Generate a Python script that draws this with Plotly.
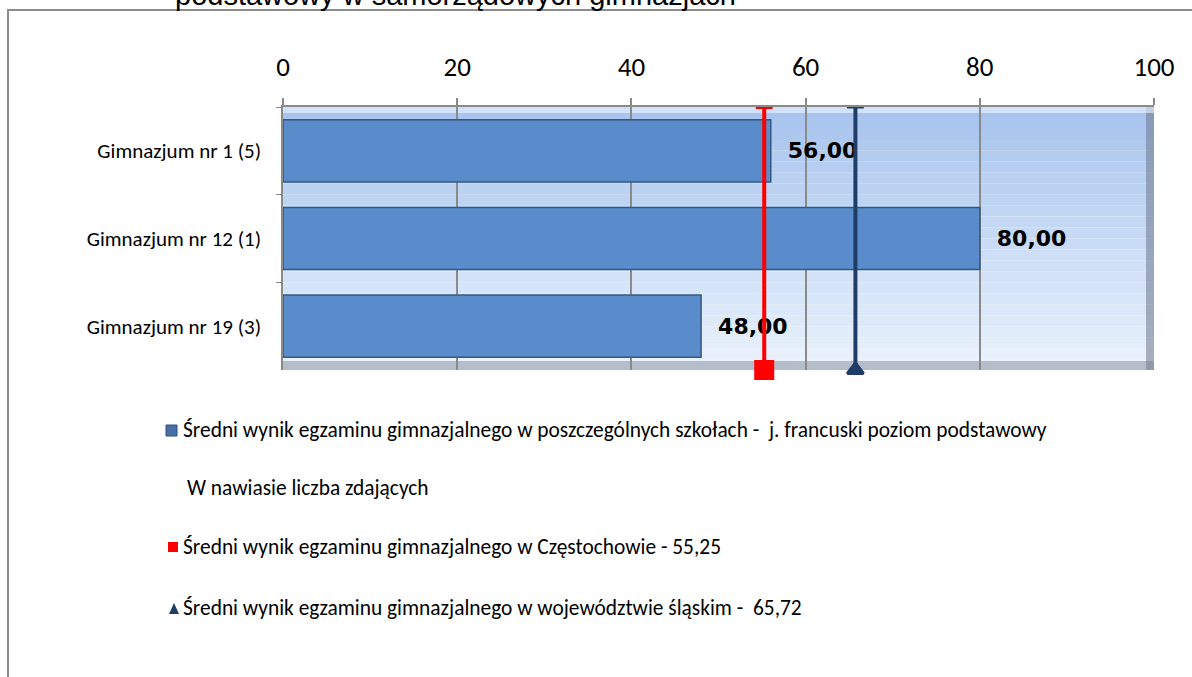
import plotly.graph_objects as go

categories = ["Gimnazjum nr 1 (5)", "Gimnazjum nr 12 (1)", "Gimnazjum nr 19 (3)"]
school_scores = [56.00, 80.00, 48.00]
city_avg = 55.25
region_avg = 65.72
x_ticks = [0, 20, 40, 60, 80, 100]
legend_texts = [
    "Średni wynik egzaminu gimnazjalnego w poszczególnych szkołach -  j. francuski poziom podstawowy",
    "W nawiasie liczba zdających",
    "Średni wynik egzaminu gimnazjalnego w Częstochowie - 55,25",
    "Średni wynik egzaminu gimnazjalnego w województwie śląskim -  65,72",
]
title_text = "podstawowy w samorządowych gimnazjach"

W, H = 1192, 677
L, R, T, B = 283, 1154, 107, 370
pw, ph = R - L, B - T

def px(x):
    return (x - L) / pw

def py(y):
    return 1 - (y - T) / ph

FONT = "Carlito, Calibri, Open Sans, sans-serif"

fig = go.Figure()

fig.add_trace(go.Bar(
    y=categories, x=school_scores, orientation="h", width=0.71,
    marker=dict(color="#5a8bcb", line=dict(color="#35597f", width=1.5)),
    text=[f"{v:.2f}".replace(".", ",") for v in school_scores],
    textposition="outside", cliponaxis=False,
    textfont=dict(family="DejaVu Sans", size=22, color="#000000"),
    texttemplate="  <b>%{text}</b>",
    showlegend=False,
))

# reference lines on secondary y axis
fig.add_trace(go.Scatter(
    x=[city_avg, city_avg], y=[0, 1], yaxis="y2", mode="lines+markers",
    line=dict(color="#ff0000", width=4),
    marker=dict(symbol=["square", "line-ew"], size=[16, 12], color="#ff0000",
                opacity=1, line=dict(color="#ff0000", width=4)),
    cliponaxis=False, showlegend=False,
))
fig.add_trace(go.Scatter(
    x=[region_avg, region_avg], y=[0, 1], yaxis="y2", mode="lines+markers",
    line=dict(color="#1f3d66", width=4),
    marker=dict(symbol=["triangle-up", "line-ew"], size=[14, 12], color="#1f3d66",
                opacity=1, line=dict(color="#1f3d66", width=3)),
    cliponaxis=False, showlegend=False,
))
# invisible trace to drive top tick labels on xaxis2
fig.add_trace(go.Scatter(x=[0, 100], y=[0, 0], xaxis="x2", yaxis="y2",
                         mode="markers", marker=dict(opacity=0), showlegend=False,
                         hoverinfo="skip"))

shapes = []
# gradient background in plot area
top_c = (168, 196, 238)
bot_c = (234, 242, 253)
n = 24
for i in range(n):
    t = i / (n - 1)
    c = tuple(int(top_c[k] + (bot_c[k] - top_c[k]) * t) for k in range(3))
    shapes.append(dict(type="rect", xref="paper", yref="paper",
                       x0=0, x1=1, y0=1 - (i + 1) / n, y1=1 - i / n,
                       fillcolor=f"rgb{c}", line=dict(width=0), layer="below"))
# bevel edges
shapes.append(dict(type="rect", xref="paper", yref="paper", x0=px(1146), x1=1,
                   y0=0, y1=1, fillcolor="rgba(110,120,140,0.55)", line=dict(width=0), layer="below"))
shapes.append(dict(type="rect", xref="paper", yref="paper", x0=0, x1=1,
                   y0=0, y1=py(361), fillcolor="rgba(120,125,140,0.45)", line=dict(width=0), layer="below"))
shapes.append(dict(type="rect", xref="paper", yref="paper", x0=0, x1=1,
                   y0=py(113), y1=1, fillcolor="rgba(235,245,255,0.6)", line=dict(width=0), layer="below"))
# outer chart border
shapes.append(dict(type="rect", xref="paper", yref="paper",
                   x0=px(8), x1=px(1200), y0=py(690), y1=py(10),
                   line=dict(color="#8c8c8c", width=2), fillcolor="rgba(0,0,0,0)"))

# legend markers
shapes.append(dict(type="rect", xref="paper", yref="paper",
                   x0=px(166), x1=px(177), y0=py(436), y1=py(425),
                   fillcolor="#4a6fa5", line=dict(color="#2e4e7a", width=1)))
shapes.append(dict(type="rect", xref="paper", yref="paper",
                   x0=px(168), x1=px(178), y0=py(552), y1=py(542),
                   fillcolor="#ff0000", line=dict(width=0)))
ax0, ay0 = px(169), py(614)
ax1, ay1 = px(179), py(614)
axm, aym = px(174), py(603)
shapes.append(dict(type="path", xref="paper", yref="paper",
                   path=f"M {ax0} {ay0} L {ax1} {ay1} L {axm} {aym} Z",
                   fillcolor="#1f3d66", line=dict(width=0)))

annotations = []
leg_pos = [(181, 430), (185, 488), (181, 547), (181, 608)]
for txt, (x, y) in zip(legend_texts, leg_pos):
    annotations.append(dict(xref="paper", yref="paper", x=px(x), y=py(y),
                            xanchor="left", yanchor="middle", showarrow=False,
                            text=txt, font=dict(family=FONT, size=21.4, color="#000000")))
annotations.append(dict(xref="paper", yref="paper", x=px(455), y=py(-5),
                        xanchor="center", yanchor="middle", showarrow=False,
                        text=title_text, font=dict(family="Liberation Sans", size=29, color="#000000")))

fig.update_layout(
    width=W, height=H,
    margin=dict(l=L, r=W - R, t=T, b=H - B),
    paper_bgcolor="white", plot_bgcolor="rgba(0,0,0,0)",
    bargap=0.29,
    xaxis=dict(range=[0, 100], side="top", tickvals=x_ticks, showticklabels=False,
               showgrid=True, gridcolor="#8a8a8a", gridwidth=1.5,
               ticks="outside", ticklen=7, tickcolor="#8a8a8a", tickwidth=1.5,
               showline=True, linecolor="#8a8a8a", linewidth=1.5, zeroline=False),
    xaxis2=dict(range=[0, 100], side="top", overlaying="x", tickvals=x_ticks,
                ticks="outside", ticklen=19, tickcolor="rgba(0,0,0,0)",
                showgrid=False, zeroline=False, showline=False,
                tickfont=dict(family=FONT, size=27, color="#000000")),
    yaxis=dict(categoryorder="array", categoryarray=categories, autorange="reversed",
               ticks="outside", ticklen=5, tickcolor="#8a8a8a", tickson="boundaries",
               showline=True, linecolor="#8a8a8a", linewidth=1.5, showgrid=False,
               ticklabelstandoff=16,
               tickfont=dict(family=FONT, size=21, color="#000000")),
    yaxis2=dict(range=[0, 1], overlaying="y", visible=False),
    shapes=shapes, annotations=annotations,
)

fig.write_html("out.html", config={"displayModeBar": False},
               post_script="document.body.style.margin='0';document.body.style.overflow='hidden';")
